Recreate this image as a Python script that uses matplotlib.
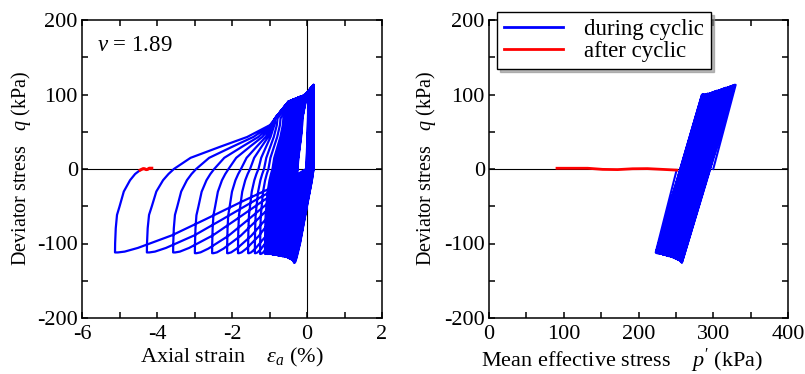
import numpy as np
from matplotlib import pyplot as plt

plt.rcParams['font.family'] = 'Liberation Serif'
plt.rcParams['mathtext.fontset'] = 'custom'
plt.rcParams['mathtext.rm'] = 'Liberation Serif'
plt.rcParams['mathtext.it'] = 'Liberation Serif:italic'
plt.rcParams['axes.unicode_minus'] = False

# peaks of each load cycle, in time order
ext_strain = [-0.34, -0.345, -0.35, -0.355, -0.36, -0.365, -0.37, -0.38, -0.39, -0.40,
              -0.41, -0.42, -0.43, -0.44, -0.45, -0.46, -0.47, -0.48, -0.49, -0.50,
              -0.515, -0.53, -0.545, -0.56, -0.575, -0.59, -0.605, -0.62, -0.635, -0.65,
              -0.665, -0.68, -0.70, -0.72, -0.74, -0.76, -0.78, -0.80, -0.82, -0.84,
              -0.86, -0.88, -0.90, -0.92, -0.945, -0.97, -0.995, -1.02, -1.045, -1.07,
              -1.12, -1.25, -1.39, -1.57, -1.84, -2.13, -2.53, -2.99, -3.57, -4.27,
              -5.12]
ext_q = [-126, -125, -125, -124, -124, -123, -123, -122, -122, -122,
         -121, -121, -121, -120, -120, -120, -120, -119, -119, -119,
         -119, -118, -118, -118, -118, -118, -117, -117, -117, -117,
         -117, -116, -116, -116, -116, -116, -116, -115, -115, -115,
         -115, -115, -115, -115, -114, -114, -114, -114, -114, -114,
         -114, -114, -113, -113, -113, -113, -113, -113, -112, -112,
         -112]
ext_p = [258, 257.5, 257, 256.5, 256, 255.5, 255, 254, 253.5, 253,
         252.5, 252, 251, 250.5, 250, 249.5, 249, 248, 247.5, 247,
         246.5, 246, 245, 244.5, 244, 243.5, 243, 242, 241.5, 241,
         240.5, 240, 239, 238.5, 238, 237.5, 237, 236, 235.5, 235,
         234.5, 234, 233, 232.5, 232, 231.5, 231, 230, 229.5, 229,
         228.5, 228, 227, 226.5, 226, 225.5, 225, 224.5, 224, 223.5,
         223]
comp_strain = [0.18, 0.18, 0.17, 0.17, 0.17, 0.17, 0.16, 0.16, 0.16, 0.16,
               0.15, 0.15, 0.15, 0.15, 0.14, 0.14, 0.14, 0.14, 0.13, 0.13,
               0.13, 0.13, 0.12, 0.12, 0.12, 0.12, 0.11, 0.11, 0.11, 0.11,
               0.10, 0.10, 0.10, 0.10, 0.09, 0.09, 0.09, 0.09, 0.08, 0.08,
               0.08, 0.08, 0.07, 0.07, 0.07, 0.07, 0.06, 0.06, 0.06, 0.06,
               0.06, 0.05, 0.05, 0.05, 0.05, 0.05, 0.04, 0.04, 0.04, 0.04,
               0.04]
comp_q = [113, 113, 113, 112, 112, 112, 112, 111, 111, 111,
          111, 110, 110, 110, 110, 109, 109, 109, 109, 108,
          108, 108, 108, 107, 107, 107, 107, 106, 106, 106,
          106, 105, 105, 105, 105, 104, 104, 104, 104, 103,
          103, 103, 103, 102, 102, 102, 102, 101, 101, 101,
          101, 101, 100, 100, 100, 100, 100, 100, 100, 100,
          100]
comp_p = [330, 329, 328.5, 328, 327, 326, 325.5, 325, 324, 323,
          322.5, 322, 321, 320, 319.5, 319, 318, 317, 316.5, 316,
          315, 314, 313.5, 313, 312, 311, 310.5, 310, 309, 308,
          307.5, 307, 306, 305, 304.5, 304, 303, 302, 301.5, 301,
          300, 299, 298.5, 298, 297, 296, 295.5, 295, 294, 293,
          292.5, 292, 291, 290, 289.5, 289, 288, 287, 286.5, 286,
          285]

start_strain, start_q, start_p = 0.0, 0.0, 300.0

# after cyclic loading
after_strain = [-4.45, -4.41, -4.37, -4.33, -4.29, -4.25, -4.21, -4.17, -4.14]
after_q = [-1.5, -0.5, 0.5, 0.3, -0.8, -0.5, 1.0, 1.0, 1.0]
after_p = [251, 232, 212, 192, 172, 152, 132, 112, 91]

# loop shape control points
unload_top_u = [0.0, 0.004, 0.012]          # share of loop width, q / comp peak
unload_top_f = [1.0, 0.5, 0.0]
unload_bot_u = [0.10, 0.33, 0.536, 0.706, 0.882, 0.95, 0.985, 1.0]  # q / ext peak
unload_bot_f = [0.125, 0.375, 0.607, 0.795, 0.946, 0.99, 1.0, 1.0]
rise_u = [0.0, 0.005, 0.03, 0.08, 0.18, 0.35, 0.6, 0.8, 1.0]
rise_f = [1.0, 0.89, 0.71, 0.55, 0.45, 0.27, 0.134, 0.06, 0.0]
fan_s = [0.165, 0.46, 0.724, 0.95, 1.0]
fan_q = [15, 30, 43, 59, 68]
top_s = [0.4, 0.75, 1.0]
top_f = [0.7, 0.9, 1.0]


def unload(c, qc, e, qe):
    w = c - e
    xs = [c - u * w for u in unload_top_u] + [c - u * w for u in unload_bot_u]
    qs = [qc * f for f in unload_top_f] + [qe * f for f in unload_bot_f]
    return xs, qs


def rise(e, qe, x0):
    d = x0 - e
    return [e + u * d for u in rise_u], [qe * f for f in rise_f]


def reload(e, qe, c, qc):
    w = c - e
    x0 = e + min(0.72, 0.17 * w)
    xs, qs = rise(e, qe, x0)
    px = max(-0.85, x0 + 0.3 * (c - x0))
    xs += [x0 + s * (px - x0) for s in fan_s]
    qs += list(fan_q)
    xs += [px + s * (c - px) for s in top_s]
    qs += [68 + f * (qc - 68) for f in top_f]
    return xs, qs


# strain - q path
ex = [start_strain, 0.1, comp_strain[0]]
eq = [start_q, 80, comp_q[0]]
n = len(ext_strain)
for k in range(n):
    xs, qs = unload(comp_strain[k], comp_q[k], ext_strain[k], ext_q[k])
    ex += xs[1:]
    eq += qs[1:]
    if k < n - 1:
        xs, qs = reload(ext_strain[k], ext_q[k], comp_strain[k + 1], comp_q[k + 1])
    else:
        xs, qs = rise(ext_strain[k], ext_q[k], after_strain[0])
        qs[-1] = after_q[0]
    ex += xs[1:]
    eq += qs[1:]

# p' - q path
pp = [start_p]
pq = [start_q]
for k in range(n):
    pp += [comp_p[k], ext_p[k]]
    pq += [comp_q[k], ext_q[k]]
pp.append(after_p[0])
pq.append(after_q[0])

fig = plt.figure(figsize=(8.05, 3.74), dpi=100)
ax1 = fig.add_axes([82 / 805, 56 / 374, 300 / 805, 298 / 374])
ax2 = fig.add_axes([489 / 805, 56 / 374, 299 / 805, 298 / 374])

blue = '#0000ff'
red = '#ff0000'

ax1.axhline(0, color='k', lw=0.8, zorder=1)
ax1.axvline(0, color='k', lw=0.8, zorder=1)
ax1.plot(ex, eq, color=blue, lw=1.6, zorder=2)
ax1.plot(after_strain, after_q, color=red, lw=2.2, zorder=3)

ax2.axhline(0, color='k', lw=0.8, zorder=1)
ax2.plot(pp, pq, color=blue, lw=1.5, zorder=2, label='during cyclic')
ax2.plot(after_p, after_q, color=red, lw=2, zorder=3, label='after cyclic')

ax1.set_xlim(-6, 2)
ax1.set_xticks([-6, -4, -2, 0, 2])
ax1.set_xticks(np.arange(-6, 3, 1), minor=True)
ax2.set_xlim(0, 400)
ax2.set_xticks([0, 100, 200, 300, 400])
ax2.set_xticks(np.arange(0, 401, 50), minor=True)

for ax in (ax1, ax2):
    ax.set_ylim(-200, 200)
    ax.set_yticks([-200, -100, 0, 100, 200])
    ax.set_yticks(np.arange(-200, 201, 50), minor=True)
    ax.tick_params(which='both', direction='in', top=True, right=True,
                   length=4.5, width=1.1, labelsize=16)
    ax.tick_params(axis='y', which='both', pad=3)
    ax.tick_params(axis='x', which='both', pad=5)
    for s in ax.spines.values():
        s.set_linewidth(1.1)
    ax.set_ylabel('Deviator stress   $q$ (kPa)', fontsize=14.5)

ax1.yaxis.set_label_coords(-0.163, 0.5)
ax2.yaxis.set_label_coords(-0.17, 0.5)
ax1.set_xlabel('Axial strain    $\\varepsilon_a$ (%)', fontsize=16)
ax2.set_xlabel("Mean effective stress    $p'$ (kPa)", fontsize=16)
ax1.xaxis.set_label_coords(0.5, -0.095)
ax2.xaxis.set_label_coords(0.445, -0.095)

ax1.text(-5.6, 166, '$v$ = 1.89', fontsize=16.5, va='center', ha='left')

leg = ax2.legend(loc='upper left', bbox_to_anchor=(497 / 805, 1 - 12 / 374),
                 bbox_transform=fig.transFigure, borderaxespad=0, fontsize=16.5,
                 handlelength=2.6, handletextpad=0.9, frameon=True, fancybox=False,
                 shadow={'color': '0.55', 'alpha': 0.6}, framealpha=1,
                 edgecolor='k', borderpad=0.3, labelspacing=0.05)
leg.get_frame().set_linewidth(1.0)
for line in leg.get_lines():
    line.set_linewidth(2)

fig.savefig('out.png', dpi=100)
